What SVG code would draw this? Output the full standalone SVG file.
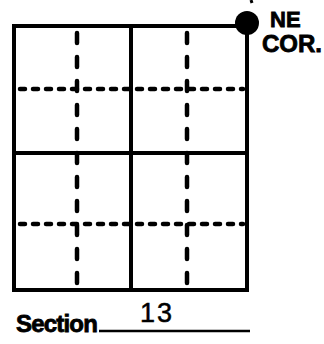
<svg xmlns="http://www.w3.org/2000/svg" width="324" height="344" viewBox="0 0 324 344">
<style>
.solid{stroke:#000;stroke-width:4;fill:none;stroke-linecap:square}
.dv{stroke:#000;stroke-width:4.5;fill:none;stroke-dasharray:10 14;stroke-linecap:round}
.dh{stroke:#000;stroke-width:4.5;fill:none;stroke-dasharray:5 8;stroke-linecap:round}
.lbl{font-family:"Liberation Sans",Arial,sans-serif;font-weight:bold;fill:#000;stroke:#000;stroke-width:0.8}
</style>
<rect width="324" height="344" fill="#fff"/>
<g id="section-grid">
<rect class="solid" x="14" y="26" width="233" height="264"/>
<line class="solid" x1="131" y1="26" x2="131" y2="290"/>
<line class="solid" x1="14" y1="153" x2="247" y2="153"/>
</g>
<g id="quarter-lines">
<line class="dv" x1="77" y1="33" x2="77" y2="284"/>
<line class="dv" x1="187" y1="33" x2="187" y2="284"/>
<line class="dh" x1="20" y1="89" x2="243" y2="89"/>
<line class="dh" x1="20" y1="224" x2="243" y2="224"/>
</g>
<g id="ne-corner">
<circle cx="247" cy="23" r="12" fill="#000"/>
<line x1="251" y1="0" x2="252" y2="3" stroke="#000" stroke-width="3"/>
<text class="lbl" x="270" y="27" font-size="22">NE</text>
<text class="lbl" x="262" y="52" font-size="24">COR.</text>
</g>
<g id="section-label">
<text class="lbl" x="16" y="332" font-size="24" letter-spacing="-0.8">Section</text>
<line x1="99" y1="331" x2="250" y2="331" stroke="#000" stroke-width="2.5"/>
<text x="140" y="322" font-family="Liberation Sans,Arial,sans-serif" font-size="27" letter-spacing="2" fill="#000" stroke="#000" stroke-width="0.5">13</text>
</g>
</svg>
